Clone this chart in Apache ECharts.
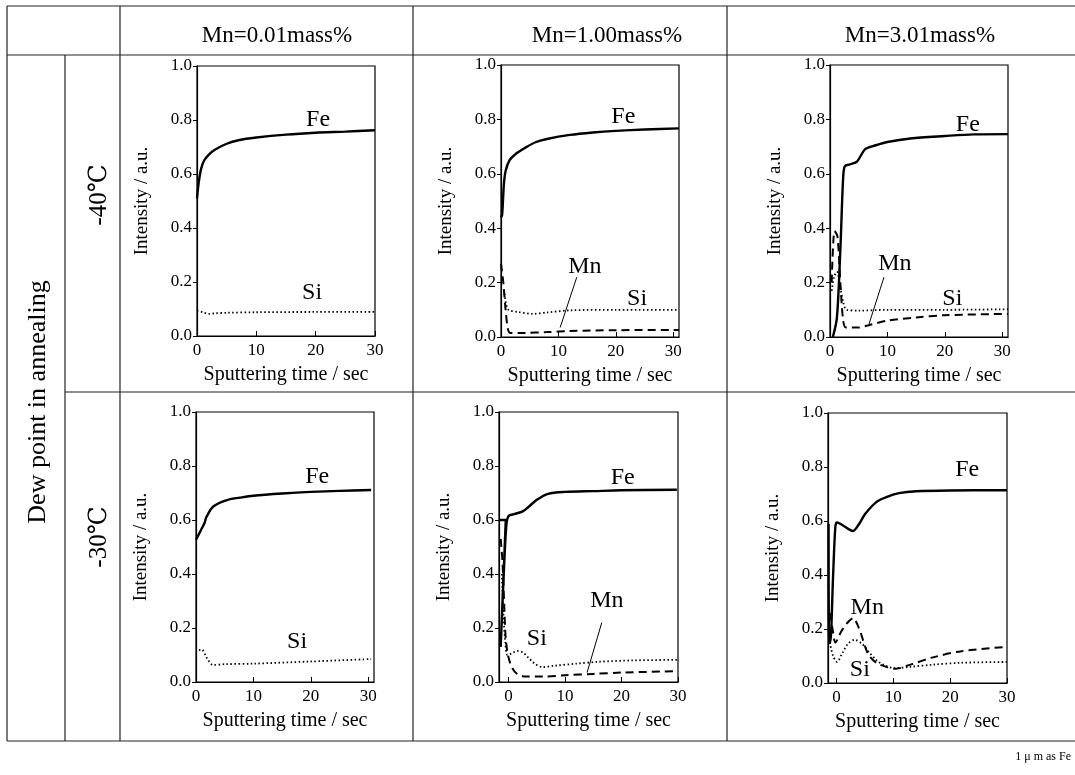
<!DOCTYPE html>
<html>
<head>
<meta charset="utf-8">
<script src="https://cdn.jsdelivr.net/npm/echarts@6/dist/echarts.min.js"></script>
<style>
	html, body { margin: 0; padding: 0; background: #fff; }
	#chart { width: 1075px; height: 775px; }
</style>
</head>
<body>
<div id="chart"></div>
<script>
// column / row headings
const headers = ["Mn=0.01mass%", "Mn=1.00mass%", "Mn=3.01mass%"]
const dewPoints = ["-40\u2103", "-30\u2103"]
const xTicks = [0, 10, 20, 30]
const yTicks = [0, 0.2, 0.4, 0.6, 0.8, 1.0]

// axis ranges of the six panels [min, max] in sec
const xRanges = [[0, 30], [0, 31], [0, 31], [0, 31], [-1.7, 30], [-1.5, 30]]

// Fe (solid) profiles
const fe1 = [[0,0.51],[0.3,0.57],[0.7,0.62],[1.2,0.65],[2,0.672],[3,0.69],[5,0.712],[7,0.725],[10,0.735],[15,0.746],[20,0.753],[25,0.757],[30,0.762]]
const fe2 = [[0,0.44],[0.2,0.45],[0.5,0.56],[0.8,0.61],[1.5,0.65],[2.5,0.672],[4,0.693],[6,0.716],[8,0.728],[12,0.743],[16,0.752],[20,0.758],[25,0.763],[31,0.767]]
const fe3 = [[0.5,0],[1.2,0.07],[1.8,0.32],[2.3,0.59],[2.6,0.628],[3.5,0.635],[4.7,0.645],[6.1,0.69],[8,0.705],[10,0.717],[14,0.73],[20,0.739],[25,0.745],[31,0.746]]
const fe4 = [[0,0.527],[0.8,0.56],[1.5,0.59],[1.8,0.61],[3,0.65],[5.4,0.674],[8,0.684],[10,0.69],[15,0.698],[20,0.704],[25,0.708],[30.5,0.711]]
const fe5 = [[-1.7,0.6],[-0.5,0.6],[-1.4,0.13],[-0.9,0.38],[-0.4,0.58],[0,0.615],[1,0.622],[2.5,0.632],[3.5,0.648],[5,0.675],[7,0.697],[10,0.704],[15,0.707],[20,0.71],[29.8,0.712]]
const fe6 = [[-1.4,0.59],[-1.35,0.2],[-1.1,0.15],[-0.6,0.4],[-0.2,0.58],[0.1,0.595],[1,0.585],[2.9,0.563],[4,0.59],[5,0.625],[7,0.67],[9,0.69],[11,0.703],[14,0.71],[20,0.713],[30,0.714]]

// Si (dotted) profiles
const si1 = [[0,0.095],[1,0.088],[2,0.082],[3,0.084],[5,0.086],[10,0.088],[20,0.089],[30,0.089]]
const si2 = [[0.6,0.16],[0.9,0.12],[1.3,0.1],[3,0.092],[5.5,0.085],[8,0.09],[12,0.098],[20,0.1],[31,0.1]]
const si3 = [[0.3,0.17],[0.7,0.22],[1.2,0.24],[1.8,0.18],[2.4,0.12],[2.9,0.1],[5,0.097],[10,0.1],[20,0.1],[31,0.102]]
const si4 = [[0.5,0.118],[1,0.12],[2,0.085],[3,0.063],[5,0.066],[10,0.068],[20,0.076],[30.5,0.085]]
const si5 = [[-1.2,0.4],[-0.9,0.25],[-0.6,0.15],[-0.2,0.1],[0.5,0.105],[1.5,0.115],[2.5,0.11],[3.5,0.09],[4.5,0.07],[6,0.055],[8,0.06],[12,0.068],[16,0.075],[22,0.08],[29.8,0.082]]
const si6 = [[-1.2,0.15],[-0.6,0.1],[0.1,0.078],[1,0.11],[2,0.145],[3.2,0.16],[4.5,0.145],[5.5,0.12],[7,0.085],[8.5,0.065],[10.3,0.055],[13,0.06],[17,0.068],[22,0.075],[30,0.078]]

// Mn (dashed) profiles, none in the 0.01 % panels
const mn2 = [[0,0.27],[0.4,0.2],[0.8,0.1],[1.2,0.03],[1.6,0.015],[4,0.015],[8,0.018],[12,0.022],[20,0.025],[31,0.026]]
const mn3 = [[0.3,0.2],[0.8,0.39],[1.3,0.37],[1.8,0.2],[2.3,0.06],[2.8,0.035],[5,0.035],[7,0.045],[10,0.06],[15,0.072],[20,0.08],[31,0.085]]
const mn5 = [[-1.4,0.53],[-1.1,0.45],[-0.8,0.3],[-0.5,0.16],[0,0.09],[0.7,0.05],[1.5,0.03],[3,0.02],[6,0.02],[10,0.025],[15,0.03],[20,0.035],[29.8,0.04]]
const mn6 = [[-1.2,0.26],[-0.7,0.2],[-0.2,0.15],[0.8,0.19],[2,0.225],[2.9,0.24],[4,0.2],[5.5,0.11],[7,0.075],[9,0.058],[10.5,0.053],[13,0.068],[17,0.095],[22,0.118],[30,0.134]]

// pointer lines from the "Mn" labels
const lead2 = [[13.2,0.22],[10.3,0.035]]
const lead3 = [[9.4,0.22],[6.8,0.048]]
const lead5 = [[16.5,0.22],[13.9,0.035]]

// curve names written in the panels [x, y, text]
const tags1 = [[20.4,0.8,"Fe"],[19.4,0.16,"Si"]]
const tags2 = [[21.3,0.81,"Fe"],[14.6,0.26,"Mn"],[23.7,0.14,"Si"]]
const tags3 = [[24,0.78,"Fe"],[11.3,0.27,"Mn"],[21.3,0.14,"Si"]]
const tags4 = [[21.1,0.76,"Fe"],[17.6,0.15,"Si"]]
const tags5 = [[20.2,0.755,"Fe"],[17.4,0.3,"Mn"],[5,0.16,"Si"]]
const tags6 = [[23,0.79,"Fe"],[5.4,0.28,"Mn"],[4.1,0.05,"Si"]]

const panels = [
	{fe: fe1, si: si1, mn: null, lead: null, tags: tags1},
	{fe: fe2, si: si2, mn: mn2, lead: lead2, tags: tags2},
	{fe: fe3, si: si3, mn: mn3, lead: lead3, tags: tags3},
	{fe: fe4, si: si4, mn: null, lead: null, tags: tags4},
	{fe: fe5, si: si5, mn: mn5, lead: lead5, tags: tags5},
	{fe: fe6, si: si6, mn: mn6, lead: null, tags: tags6}
]

const FONT = "'Liberation Serif', 'DejaVu Serif', serif"
const INK = "#000"

// plot boxes in px
const boxes = [
	{left: 197, top: 66, width: 178, height: 270},
	{left: 501, top: 65, width: 178, height: 272},
	{left: 830, top: 65, width: 178, height: 272},
	{left: 196, top: 412, width: 178, height: 270},
	{left: 499, top: 412, width: 179, height: 270},
	{left: 828, top: 413, width: 179, height: 270}
]

let grid = [], xAxis = [], yAxis = [], series = []
boxes.forEach((b, i) => {
	grid.push(Object.assign({show: true, borderColor: INK, borderWidth: 1.2, backgroundColor: "transparent"}, b))
	xAxis.push({
		type: "value", gridIndex: i,
		min: xRanges[i][0], max: xRanges[i][1],
		name: "Sputtering time / sec", nameLocation: "middle", nameGap: 29,
		nameTextStyle: {fontFamily: FONT, fontSize: 20, color: INK},
		axisLine: {show: true, onZero: false, lineStyle: {color: INK, width: 1.2}},
		axisTick: {show: true, inside: true, length: 5, customValues: xTicks, lineStyle: {color: INK}},
		axisLabel: {customValues: xTicks, fontFamily: FONT, fontSize: 17, color: INK, margin: 6},
		splitLine: {show: false}
	})
	yAxis.push({
		type: "value", gridIndex: i,
		min: 0, max: 1,
		name: "Intensity / a.u.", nameLocation: "middle", nameGap: 45, nameRotate: 90,
		nameTextStyle: {fontFamily: FONT, fontSize: 19, color: INK},
		axisLine: {show: true, onZero: false, lineStyle: {color: INK, width: 1.2}},
		axisTick: {show: true, length: 4, customValues: yTicks, lineStyle: {color: INK}},
		axisLabel: {customValues: yTicks, fontFamily: FONT, fontSize: 17, color: INK, margin: 5,
			formatter: v => v.toFixed(1)},
		splitLine: {show: false}
	})
	let p = panels[i]
	series.push({
		type: "line", xAxisIndex: i, yAxisIndex: i, data: p.fe, showSymbol: false, symbol: "none",
		smooth: 0.3, lineStyle: {color: INK, width: 2.4, type: "solid"}, z: 3
	})
	series.push({
		type: "line", xAxisIndex: i, yAxisIndex: i, data: p.si, showSymbol: false, symbol: "none",
		smooth: 0.3, lineStyle: {color: INK, width: 1.8, type: [1.5, 2.5]}, z: 2
	})
	if (p.mn)
		series.push({
			type: "line", xAxisIndex: i, yAxisIndex: i, data: p.mn, showSymbol: false, symbol: "none",
			smooth: 0.3, lineStyle: {color: INK, width: 2, type: [8, 5]}, z: 2
		})
	if (p.lead)
		series.push({
			type: "line", xAxisIndex: i, yAxisIndex: i, data: p.lead, showSymbol: false, symbol: "none",
			lineStyle: {color: INK, width: 1}, z: 2
		})
	series.push({
		type: "scatter", xAxisIndex: i, yAxisIndex: i, data: p.tags, symbolSize: 0,
		label: {show: true, position: "inside", formatter: d => d.value[2],
			fontFamily: FONT, fontSize: 24, color: INK, opacity: 1, textBorderWidth: 0},
		z: 4
	})
})

// table rules
const rule = (x1, y1, x2, y2) => ({
	type: "line", shape: {x1, y1, x2, y2}, style: {stroke: "#222", lineWidth: 1.2}, silent: true
})
let graphic = [
	rule(7, 6, 1075, 6),
	rule(7, 55, 1075, 55),
	rule(65, 392, 1075, 392),
	rule(7, 741, 1075, 741),
	rule(7, 6, 7, 741),
	rule(65, 55, 65, 741),
	rule(120, 6, 120, 741),
	rule(413, 6, 413, 741),
	rule(727, 6, 727, 741)
]
const headerX = [277, 607, 920]
headers.forEach((h, i) => graphic.push({
	type: "text", x: headerX[i], y: 36,
	style: {text: h, fontFamily: FONT, fontSize: 23, fill: INK, align: "center", verticalAlign: "middle"}
}))
const dewY = [195, 537]
dewPoints.forEach((d, i) => graphic.push({
	type: "text", x: 99, y: dewY[i], rotation: Math.PI / 2,
	style: {text: d, fontFamily: FONT, fontSize: 25, fill: INK, align: "center", verticalAlign: "middle"}
}))
graphic.push({
	type: "text", x: 38, y: 402, rotation: Math.PI / 2,
	style: {text: "Dew point in annealing", fontFamily: FONT, fontSize: 26, fill: INK, align: "center", verticalAlign: "middle"}
})
graphic.push({
	type: "text", x: 1071, y: 757,
	style: {text: "1 \u03bc m as Fe", fontFamily: FONT, fontSize: 12, fill: INK, align: "right", verticalAlign: "middle"}
})

let chart = echarts.init(document.getElementById("chart"))
chart.setOption({
	backgroundColor: "#fff",
	animation: false,
	grid: grid,
	xAxis: xAxis,
	yAxis: yAxis,
	series: series,
	graphic: graphic
})
</script>
</body>
</html>
